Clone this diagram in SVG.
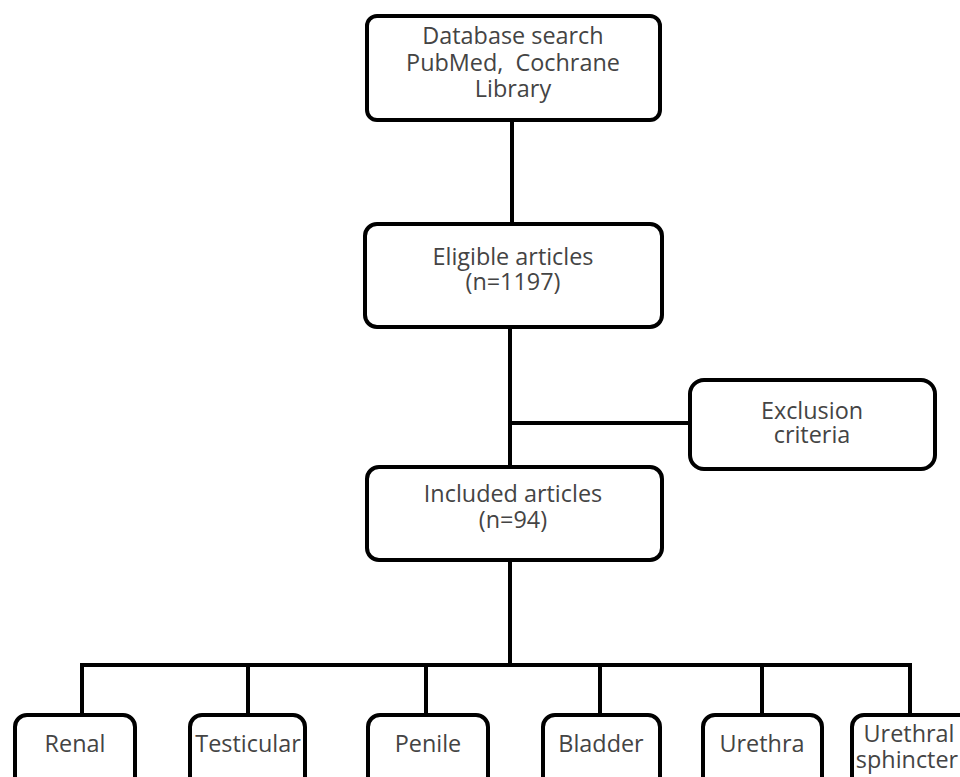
<svg xmlns="http://www.w3.org/2000/svg" width="960" height="777" viewBox="0 0 960 777">
<style>
.box{fill:#fff;stroke:#000;stroke-width:4}
.ln{stroke:#000;stroke-width:4;fill:none}
text{font-family:"Open Sans","Noto Sans",sans-serif;font-size:23.4px;fill:#444;text-anchor:middle}
.pre{white-space:pre}
</style>
<rect width="960" height="777" fill="#fff"/>
<g id="connectors">
<line class="ln" x1="512" y1="120" x2="512" y2="223"/>
<line class="ln" x1="510" y1="327" x2="510" y2="467"/>
<line class="ln" x1="508" y1="423" x2="690" y2="423"/>
<line class="ln" x1="510" y1="560" x2="510" y2="665"/>
<polyline class="ln" points="82,715 82,665 910,665 910,715"/>
<line class="ln" x1="248" y1="665" x2="248" y2="715"/>
<line class="ln" x1="426" y1="665" x2="426" y2="715"/>
<line class="ln" x1="600" y1="665" x2="600" y2="715"/>
<line class="ln" x1="762" y1="665" x2="762" y2="715"/>
</g>
<g id="n1"><rect class="box" x="367" y="16" width="293" height="104" rx="10"/>
<text x="513" y="44">Database search</text><text x="513" y="71" class="pre" xml:space="preserve">PubMed,  Cochrane</text><text x="513" y="97">Library</text></g>
<g id="n2"><rect class="box" x="365" y="224" width="297" height="103" rx="12"/>
<text x="513" y="265">Eligible articles</text><text x="513" y="290">(n=1197)</text></g>
<g id="n3"><rect class="box" x="690" y="380" width="245" height="89" rx="14"/>
<text x="812" y="419">Exclusion</text><text x="812" y="443">criteria</text></g>
<g id="n4"><rect class="box" x="367" y="467" width="295" height="93" rx="12"/>
<text x="513" y="502">Included articles</text><text x="513" y="528">(n=94)</text></g>
<g id="n5"><rect class="box" x="15" y="715" width="120" height="80" rx="12"/><text x="75" y="752">Renal</text></g>
<g id="n6"><rect class="box" x="190" y="715" width="115" height="80" rx="12"/><text x="248" y="752">Testicular</text></g>
<g id="n7"><rect class="box" x="368" y="715" width="120" height="80" rx="12"/><text x="428" y="752">Penile</text></g>
<g id="n8"><rect class="box" x="543" y="715" width="117" height="80" rx="12"/><text x="601" y="752">Bladder</text></g>
<g id="n9"><rect class="box" x="703" y="715" width="119" height="80" rx="12"/><text x="762" y="752">Urethra</text></g>
<g id="n10"><rect class="box" x="852" y="715" width="130" height="80" rx="12"/><text x="909" y="742">Urethral</text><text x="907" y="768">sphincter</text></g>
</svg>
